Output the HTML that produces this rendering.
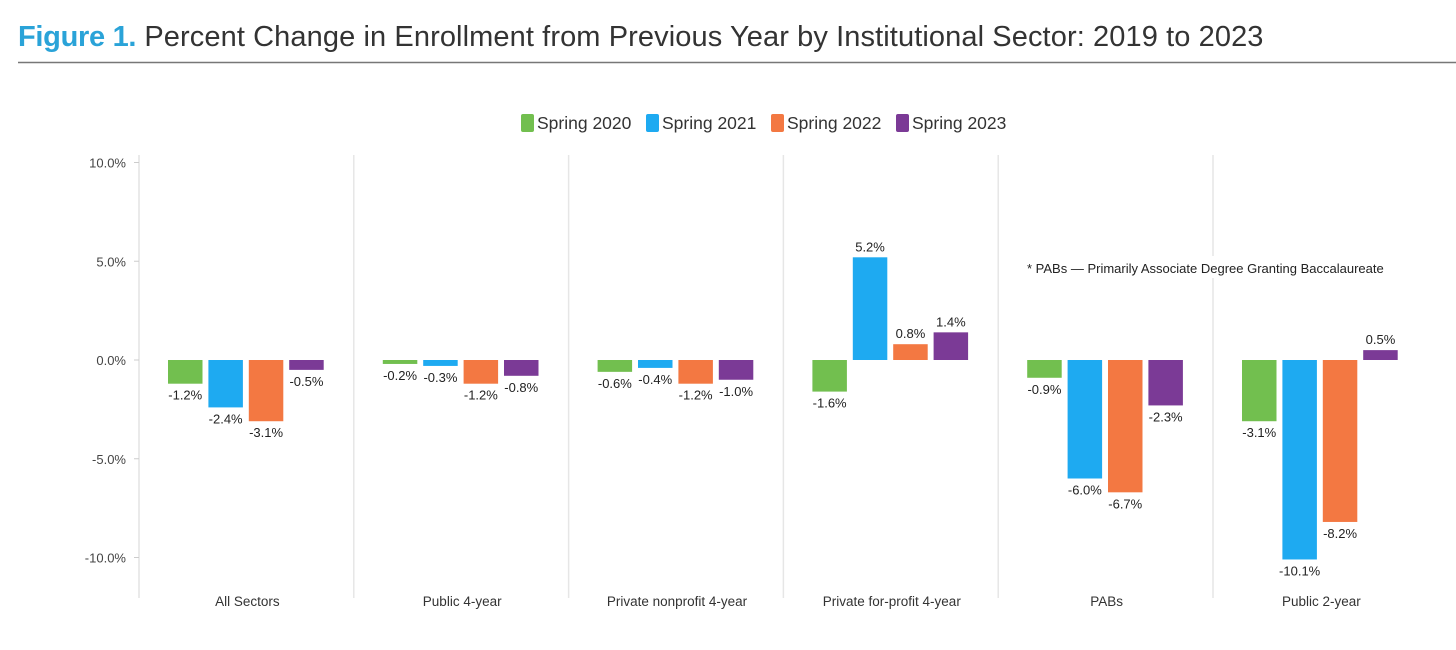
<!DOCTYPE html>
<html><head><meta charset="utf-8"><style>
body{margin:0;background:#fff;width:1456px;height:645px;overflow:hidden;font-family:"Liberation Sans",sans-serif}
</style></head><body>
<svg width="1456" height="645" id="svg" xmlns="http://www.w3.org/2000/svg">
<text x="18" y="46" font-size="29"><tspan fill="#2aa3d8" font-weight="bold" letter-spacing="-0.3">Figure 1.</tspan><tspan fill="#333" letter-spacing="0.1"> Percent Change in Enrollment from Previous Year by Institutional Sector: 2019 to 2023</tspan></text>
<line x1="18" y1="62.5" x2="1456" y2="62.5" stroke="#777" stroke-width="1.5"/>
<g id="legend"></g>
<g id="grid"></g>
<g id="bars"></g>
<rect x="1022" y="256" width="390" height="22" fill="#fff"/>
<text x="1027" y="273" font-size="13" fill="#222">* PABs — Primarily Associate Degree Granting Baccalaureate</text>
</svg>
<script>
const categories=["All Sectors","Public 4-year","Private nonprofit 4-year","Private for-profit 4-year","PABs","Public 2-year"];
const seriesNames=["Spring 2020","Spring 2021","Spring 2022","Spring 2023"];
const s2020=[-1.2,-0.2,-0.6,-1.6,-0.9,-3.1];
const s2021=[-2.4,-0.3,-0.4,5.2,-6.0,-10.1];
const s2022=[-3.1,-1.2,-1.2,0.8,-6.7,-8.2];
const s2023=[-0.5,-0.8,-1.0,1.4,-2.3,0.5];
const yTicks=[10,5,0,-5,-10];
const yTickLabels=["10.0%","5.0%","0.0%","-5.0%","-10.0%"];
const colors=["#72bf4f","#1eaaf1","#f37842","#7b3a96"];
const series=[s2020,s2021,s2022,s2023];
const NS="http://www.w3.org/2000/svg";
const svg=document.getElementById('svg');
const y=v=>360-v*19.75;
const catW=214.8, x0=139;
const x=i=>x0+i*catW;
function mk(t,a,p){const e=document.createElementNS(NS,t);for(const k in a)e.setAttribute(k,a[k]);(p||svg).appendChild(e);return e;}
const grid=document.getElementById('grid'), bars=document.getElementById('bars'), legend=document.getElementById('legend');
const ax=mk('line',{x1:x0,y1:155,x2:x0,y2:598,stroke:'#e3e3e3','stroke-width':1.5},grid);


yTicks.forEach((t,i)=>{
 const tk=mk('line',{x1:x0-5,x2:x0,y1:y(t),y2:y(t),stroke:'#ccc'},grid);
 
 
 const tl=mk('text',{x:x0-13,y:y(t)+5,'text-anchor':'end','font-size':13,fill:'#444'},grid);
 tl.textContent=yTickLabels[i];
 
 
});
categories.forEach((c,i)=>{
 if(i>0){const d=mk('line',{x1:x(i),x2:x(i),y1:155,y2:598,stroke:'#e6e6e6','stroke-width':1.5},grid);
 
 }
 const l=mk('text',{x:x(i)+catW/2+1,y:606,'text-anchor':'middle','font-size':13.5,fill:'#333'},grid);
 l.textContent=c;
 
 
 series.forEach((s,j)=>{
  const v=s[i], bx=x(i)+29+j*40.4, bw=34.5;
  const top=Math.min(y(v),y(0)), h=Math.abs(y(v)-y(0));
  const r=mk('rect',{x:bx,y:top,width:bw,height:Math.max(h,1),fill:colors[j]},bars);
  
  
  const tv=mk('text',{x:bx+bw/2,y:v<0?y(v)+16:y(v)-6,'text-anchor':'middle','font-size':13,fill:'#222'},bars);
  tv.textContent=v.toFixed(1)+'%';
  
  
 });
});
const lx=[521,646,771,896];
seriesNames.forEach((n,j)=>{
 const g=mk('g',{},legend);
 
 
 mk('rect',{x:lx[j],y:114,width:13,height:18,rx:2,fill:colors[j]},g);
 const t=mk('text',{x:lx[j]+16,y:129,'font-size':17.5,fill:'#333'},g);
 t.textContent=n;
});
</script>
</body></html>
